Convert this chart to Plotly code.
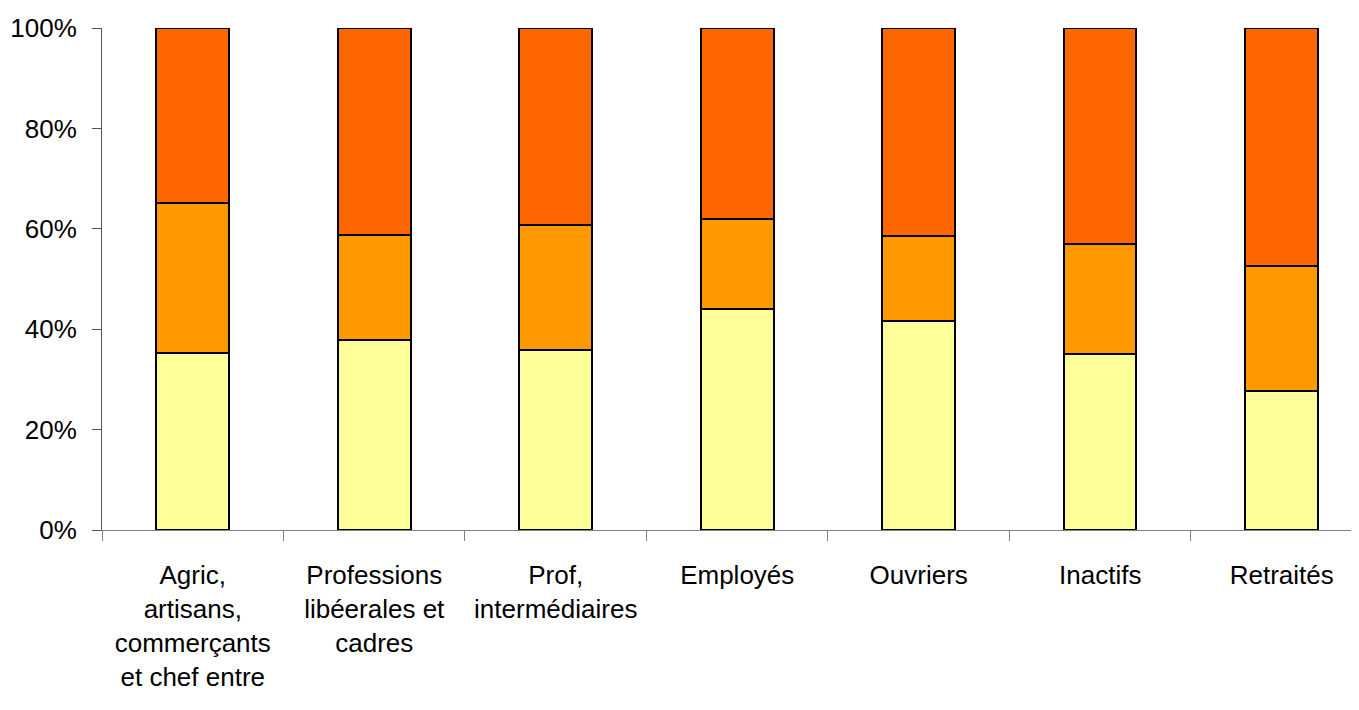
import plotly.graph_objects as go

categories = ["Agric,<br>artisans,<br>commerçants<br>et chef entre",
              "Professions<br>libéerales et<br>cadres",
              "Prof,<br>intermédiaires",
              "Employés", "Ouvriers", "Inactifs", "Retraités"]
bottom = [35.3, 37.8, 35.9, 44.0, 41.6, 35.1, 27.7]
middle = [29.8, 21.0, 24.9, 18.0, 17.0, 21.9, 24.9]
top = [34.9, 41.2, 39.2, 38.0, 41.4, 43.0, 47.4]
y_ticks = [0, 20, 40, 60, 80, 100]
y_tick_labels = ["0%", "20%", "40%", "60%", "80%", "100%"]

colors = ["#FFFF99", "#FF9900", "#FF6600"]
series = [bottom, middle, top]

fig = go.Figure()
for vals, c in zip(series, colors):
    fig.add_trace(go.Bar(x=categories, y=vals, marker=dict(color=c, line=dict(color="black", width=2)),
                         width=0.4, showlegend=False))

font = dict(family="Liberation Sans, Arial", size=26, color="black")
fig.update_layout(
    barmode="stack",
    width=1351, height=702,
    margin=dict(l=94, r=0, t=20, b=180),
    plot_bgcolor="white", paper_bgcolor="white",
    font=font,
    xaxis=dict(range=[-0.5, 6.426], showline=True, linecolor="#808080", linewidth=1,
               ticks="outside", tickson="boundaries", ticklen=10, tickcolor="#808080",
               showgrid=False, tickfont=font, tickangle=0, automargin=False,
               ticklabelstandoff=22),
    yaxis=dict(range=[0, 100], tickmode="array", tickvals=y_ticks, ticktext=y_tick_labels,
               showline=True, linecolor="#555", linewidth=1, ticks="outside", ticklen=9,
               tickcolor="#555", showgrid=False, zeroline=False, tickfont=font,
               automargin=False, ticklabelstandoff=10),
)
fig.write_html("out.html")
